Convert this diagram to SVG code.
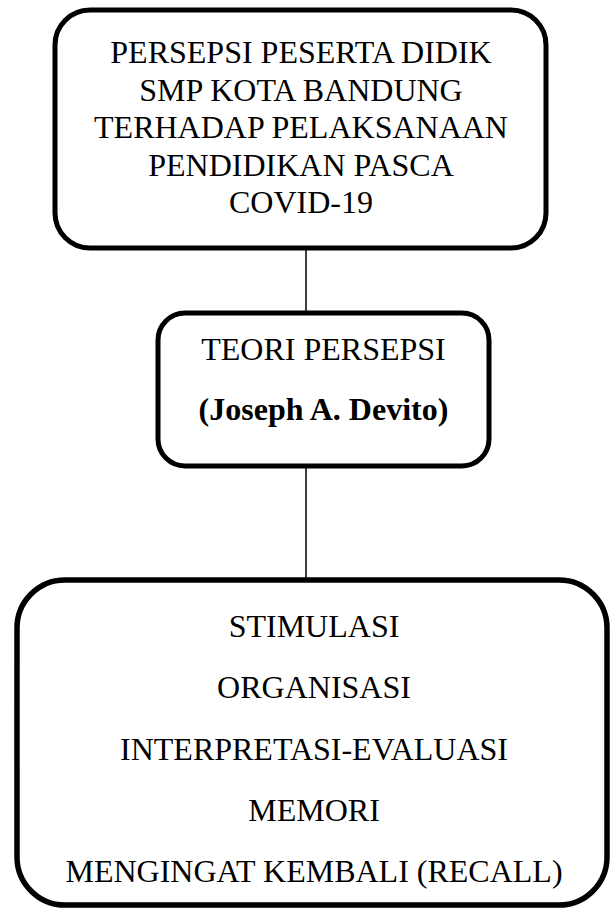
<svg xmlns="http://www.w3.org/2000/svg" width="610" height="911" viewBox="0 0 610 911">
<style>
.box{fill:#fff;stroke:#000;stroke-width:5}
.conn{stroke:#000;stroke-width:1.5;fill:none}
.t{font-family:"Liberation Serif","Times New Roman",serif;font-size:32px;fill:#000;text-anchor:middle}
.b{font-weight:bold}
</style>
<rect width="610" height="911" fill="#fff"/>
<g id="connectors">
<line class="conn" x1="306" y1="248" x2="306" y2="313"/>
<line class="conn" x1="306" y1="466" x2="306" y2="580"/>
</g>
<g id="node-top">
<rect class="box" x="55" y="10" width="491" height="238" rx="35"/>
<text class="t" x="301" y="63">PERSEPSI PESERTA DIDIK</text>
<text class="t" x="301" y="100.5">SMP KOTA BANDUNG</text>
<text class="t" x="301" y="138">TERHADAP PELAKSANAAN</text>
<text class="t" x="301" y="175.5">PENDIDIKAN PASCA</text>
<text class="t" x="301" y="213">COVID-19</text>
</g>
<g id="node-middle">
<rect class="box" x="158" y="313" width="331" height="153" rx="27"/>
<text class="t" x="323.5" y="360">TEORI PERSEPSI</text>
<text class="t b" x="323.5" y="420">(Joseph A. Devito)</text>
</g>
<g id="node-bottom">
<rect class="box" style="stroke-width:5.5" x="17" y="580" width="590" height="325" rx="48"/>
<text class="t" x="314" y="637">STIMULASI</text>
<text class="t" x="314" y="698">ORGANISASI</text>
<text class="t" x="314" y="759.5">INTERPRETASI-EVALUASI</text>
<text class="t" x="314" y="821">MEMORI</text>
<text class="t" x="314" y="882">MENGINGAT KEMBALI (RECALL)</text>
</g>
</svg>
